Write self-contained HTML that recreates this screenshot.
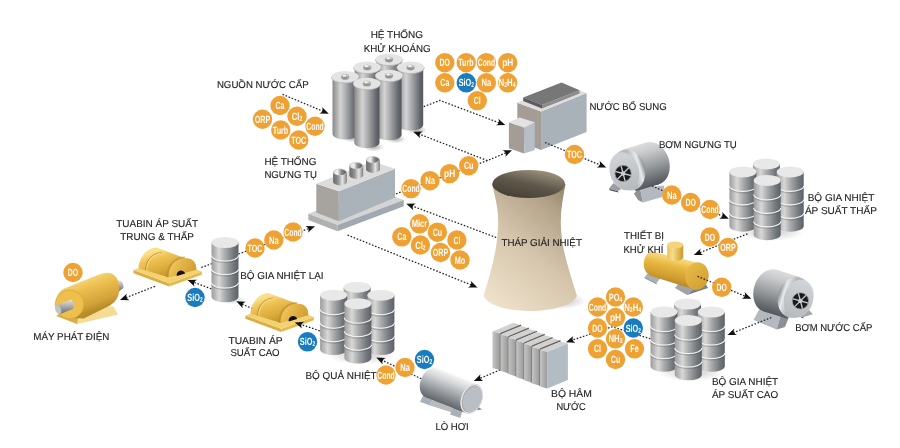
<!DOCTYPE html>
<html><head><meta charset="utf-8"><style>
html,body{margin:0;padding:0;background:#fff;width:900px;height:448px;overflow:hidden}
svg{display:block;will-change:transform}
.l{text-rendering:geometricPrecision;font-family:"Liberation Sans",sans-serif;fill:#222;stroke:#222;stroke-width:0.12px}
.b{text-rendering:geometricPrecision;font-family:"Liberation Sans",sans-serif;font-weight:bold;font-size:10.5px;fill:#fff}
</style></head><body>
<svg width="900" height="448" viewBox="0 0 900 448">
<defs>
<linearGradient id="gDrum" x1="0" y1="0" x2="1" y2="0">
 <stop offset="0" stop-color="#9c9c9c"/><stop offset="0.28" stop-color="#d8d8d8"/>
 <stop offset="0.52" stop-color="#a7a8a9"/><stop offset="0.82" stop-color="#72777c"/><stop offset="1" stop-color="#5c6166"/>
</linearGradient>
<linearGradient id="gCyl" x1="0" y1="0" x2="1" y2="0">
 <stop offset="0" stop-color="#888888"/><stop offset="0.32" stop-color="#d4d4d4"/>
 <stop offset="0.58" stop-color="#a0a2a4"/><stop offset="0.88" stop-color="#62666c"/><stop offset="1" stop-color="#54585e"/>
</linearGradient>
<linearGradient id="gTop" x1="0" y1="0" x2="1" y2="1">
 <stop offset="0" stop-color="#f0f0f0"/><stop offset="1" stop-color="#d8d8d8"/>
</linearGradient>
<linearGradient id="gPipe" x1="0" y1="0" x2="1" y2="0">
 <stop offset="0" stop-color="#6a6a6a"/><stop offset="0.35" stop-color="#8e8e8e"/>
 <stop offset="0.68" stop-color="#e4e4e4"/><stop offset="1" stop-color="#7e7e7e"/>
</linearGradient>
<linearGradient id="gPipeIn" x1="0" y1="0" x2="1" y2="0">
 <stop offset="0" stop-color="#dadada"/><stop offset="0.3" stop-color="#f2f2f2"/><stop offset="0.6" stop-color="#8a8a8a"/><stop offset="1" stop-color="#5e5e5e"/>
</linearGradient>
<linearGradient id="gTower" gradientUnits="userSpaceOnUse" x1="485" y1="300" x2="575" y2="190">
 <stop offset="0" stop-color="#efe1cb"/><stop offset="0.45" stop-color="#d6c6ad"/><stop offset="0.8" stop-color="#b3a389"/><stop offset="1" stop-color="#8e7f66"/>
</linearGradient>
<linearGradient id="gTowerTop" x1="0.2" y1="1" x2="0.8" y2="0">
 <stop offset="0" stop-color="#443d32"/><stop offset="0.5" stop-color="#5e574a"/><stop offset="1" stop-color="#a39984"/>
</linearGradient>
<linearGradient id="gKnob" x1="0" y1="0" x2="0" y2="1"><stop offset="0" stop-color="#e6e6e6"/><stop offset="1" stop-color="#7a7a7a"/></linearGradient>
<radialGradient id="gShadow" cx="0.5" cy="0.5" r="0.5">
 <stop offset="0" stop-color="#000" stop-opacity="0.35"/><stop offset="1" stop-color="#000" stop-opacity="0"/>
</radialGradient>
<linearGradient id="lg1" gradientUnits="userSpaceOnUse" x1="492.50" y1="0.00" x2="499.80" y2="0.00"><stop offset="0" stop-color="#c4c4c4"/><stop offset="1" stop-color="#9c9c9c"/></linearGradient><linearGradient id="lg2" gradientUnits="userSpaceOnUse" x1="500.40" y1="0.00" x2="507.70" y2="0.00"><stop offset="0" stop-color="#c4c4c4"/><stop offset="1" stop-color="#9c9c9c"/></linearGradient><linearGradient id="lg3" gradientUnits="userSpaceOnUse" x1="508.30" y1="0.00" x2="515.60" y2="0.00"><stop offset="0" stop-color="#c4c4c4"/><stop offset="1" stop-color="#9c9c9c"/></linearGradient><linearGradient id="lg4" gradientUnits="userSpaceOnUse" x1="516.20" y1="0.00" x2="523.50" y2="0.00"><stop offset="0" stop-color="#c4c4c4"/><stop offset="1" stop-color="#9c9c9c"/></linearGradient><linearGradient id="lg5" gradientUnits="userSpaceOnUse" x1="524.10" y1="0.00" x2="531.40" y2="0.00"><stop offset="0" stop-color="#c4c4c4"/><stop offset="1" stop-color="#9c9c9c"/></linearGradient><linearGradient id="lg6" gradientUnits="userSpaceOnUse" x1="532.00" y1="0.00" x2="539.30" y2="0.00"><stop offset="0" stop-color="#c4c4c4"/><stop offset="1" stop-color="#9c9c9c"/></linearGradient><linearGradient id="lg7" gradientUnits="userSpaceOnUse" x1="539.90" y1="0.00" x2="547.20" y2="0.00"><stop offset="0" stop-color="#c4c4c4"/><stop offset="1" stop-color="#9c9c9c"/></linearGradient><linearGradient id="lg8" gradientUnits="userSpaceOnUse" x1="623.00" y1="149.55" x2="635.60" y2="191.29"><stop offset="0" stop-color="#dcdcdc"/><stop offset="0.2" stop-color="#c8cacc"/><stop offset="0.55" stop-color="#989b9e"/><stop offset="0.85" stop-color="#686c71"/><stop offset="1" stop-color="#54585c"/></linearGradient><linearGradient id="lg9" gradientUnits="userSpaceOnUse" x1="613.33" y1="174.61" x2="643.97" y2="165.36"><stop offset="0" stop-color="#c8ccd0"/><stop offset="0.6" stop-color="#b4b8bc"/><stop offset="0.85" stop-color="#e8eaec"/><stop offset="1" stop-color="#8c9094"/></linearGradient><linearGradient id="lg10" gradientUnits="userSpaceOnUse" x1="619.37" y1="151.37" x2="631.23" y2="190.63"><stop offset="0" stop-color="#d2d5d8"/><stop offset="1" stop-color="#b6babe"/></linearGradient><linearGradient id="lg11" gradientUnits="userSpaceOnUse" x1="800.00" y1="276.95" x2="787.40" y2="318.69"><stop offset="0" stop-color="#dcdcdc"/><stop offset="0.2" stop-color="#c8cacc"/><stop offset="0.55" stop-color="#989b9e"/><stop offset="0.85" stop-color="#686c71"/><stop offset="1" stop-color="#54585c"/></linearGradient><linearGradient id="lg12" gradientUnits="userSpaceOnUse" x1="809.67" y1="302.01" x2="779.03" y2="292.76"><stop offset="0" stop-color="#c8ccd0"/><stop offset="0.6" stop-color="#b4b8bc"/><stop offset="0.85" stop-color="#e8eaec"/><stop offset="1" stop-color="#8c9094"/></linearGradient><linearGradient id="lg13" gradientUnits="userSpaceOnUse" x1="803.63" y1="278.77" x2="791.77" y2="318.03"><stop offset="0" stop-color="#d2d5d8"/><stop offset="1" stop-color="#b6babe"/></linearGradient><linearGradient id="lg14" gradientUnits="userSpaceOnUse" x1="477.39" y1="384.59" x2="466.01" y2="413.21"><stop offset="0" stop-color="#f4f4f4"/><stop offset="0.25" stop-color="#d4d6d8"/><stop offset="0.7" stop-color="#8e9296"/><stop offset="1" stop-color="#62666a"/></linearGradient><linearGradient id="lg15" gradientUnits="userSpaceOnUse" x1="668.00" y1="257.00" x2="662.00" y2="283.00"><stop offset="0" stop-color="#f6d678"/><stop offset="0.3" stop-color="#e8b840"/><stop offset="0.75" stop-color="#cc9a2e"/><stop offset="1" stop-color="#b08220"/></linearGradient><linearGradient id="lg16" gradientUnits="userSpaceOnUse" x1="686.00" y1="265.00" x2="708.00" y2="288.00"><stop offset="0" stop-color="#eabc48"/><stop offset="1" stop-color="#cf9d30"/></linearGradient><linearGradient id="gDome" x1="0" y1="0" x2="1" y2="0"><stop offset="0" stop-color="#e8c05a"/><stop offset="0.35" stop-color="#f7dc8a"/><stop offset="1" stop-color="#c8982e"/></linearGradient><linearGradient id="lg17" gradientUnits="userSpaceOnUse" x1="78.00" y1="278.00" x2="90.00" y2="312.00"><stop offset="0" stop-color="#f8da82"/><stop offset="0.35" stop-color="#ecbf50"/><stop offset="0.8" stop-color="#d3a33a"/><stop offset="1" stop-color="#b98c28"/></linearGradient><linearGradient id="gShaft" x1="0" y1="0" x2="0" y2="1"><stop offset="0" stop-color="#e6e6e6"/><stop offset="0.5" stop-color="#a8a8a8"/><stop offset="1" stop-color="#6a6a6a"/></linearGradient><linearGradient id="lg18" gradientUnits="userSpaceOnUse" x1="158.00" y1="250.00" x2="167.00" y2="277.00"><stop offset="0" stop-color="#fbe08c"/><stop offset="0.25" stop-color="#f0c458"/><stop offset="0.7" stop-color="#d9a93a"/><stop offset="1" stop-color="#c39329"/></linearGradient><linearGradient id="lg19" gradientUnits="userSpaceOnUse" x1="170.00" y1="262.00" x2="194.00" y2="276.00"><stop offset="0" stop-color="#f2ca5e"/><stop offset="0.5" stop-color="#e0b044"/><stop offset="1" stop-color="#cc9c34"/></linearGradient><linearGradient id="lg20" gradientUnits="userSpaceOnUse" x1="270.00" y1="295.50" x2="279.00" y2="322.50"><stop offset="0" stop-color="#fbe08c"/><stop offset="0.25" stop-color="#f0c458"/><stop offset="0.7" stop-color="#d9a93a"/><stop offset="1" stop-color="#c39329"/></linearGradient><linearGradient id="lg21" gradientUnits="userSpaceOnUse" x1="282.00" y1="307.50" x2="306.00" y2="321.50"><stop offset="0" stop-color="#f2ca5e"/><stop offset="0.5" stop-color="#e0b044"/><stop offset="1" stop-color="#cc9c34"/></linearGradient></defs>
<rect width="900" height="448" fill="#fff"/>
<polyline points="282.50,94.30 323.93,111.66" fill="none" stroke="#222" stroke-width="1.25" stroke-dasharray="1.6 1.7"/>
<polyline points="423.70,106.70 439.80,100.40 500.36,123.24" fill="none" stroke="#222" stroke-width="1.25" stroke-dasharray="1.6 1.7"/>
<polyline points="487.30,160.60 418.22,133.62" fill="none" stroke="#222" stroke-width="1.25" stroke-dasharray="1.6 1.7"/>
<polyline points="396.00,193.80 487.30,160.60 507.13,152.33" fill="none" stroke="#222" stroke-width="1.25" stroke-dasharray="1.6 1.7"/>
<polyline points="496.20,237.50 411.24,205.65" fill="none" stroke="#222" stroke-width="1.25" stroke-dasharray="1.6 1.7"/>
<polyline points="347.50,235.00 472.60,285.52" fill="none" stroke="#222" stroke-width="1.25" stroke-dasharray="1.6 1.7"/>
<polyline points="747.50,233.80 698.71,253.06" fill="none" stroke="#222" stroke-width="1.25" stroke-dasharray="1.6 1.7"/>
<polyline points="650.40,338.80 612.00,326.80 571.01,340.52" fill="none" stroke="#222" stroke-width="1.25" stroke-dasharray="1.6 1.7"/>
<polyline points="506.30,367.30 478.67,378.95" fill="none" stroke="#222" stroke-width="1.25" stroke-dasharray="1.6 1.7"/>
<polyline points="421.30,378.80 381.07,359.76" fill="none" stroke="#222" stroke-width="1.25" stroke-dasharray="1.6 1.7"/>
<polyline points="252.50,308.80 241.09,303.52" fill="none" stroke="#222" stroke-width="1.25" stroke-dasharray="1.6 1.7"/>
<polyline points="201.30,267.50 310.04,228.10" fill="none" stroke="#222" stroke-width="1.25" stroke-dasharray="1.6 1.7"/>
<polyline points="155.00,286.30 124.92,298.08" fill="none" stroke="#222" stroke-width="1.25" stroke-dasharray="1.6 1.7"/>
<ellipse cx="560" cy="301" rx="26" ry="8" fill="url(#gShadow)" opacity="0.8"/>
<path d="M492,184 C496,200 499,212 498,228 C497,252 490,275 483.5,296 C490,308 515,311 531,311 C550,311 572,306 577,296 C571,276 562,252 561,228 C560,212 563,198 565.5,184 Z" fill="url(#gTower)"/>
<ellipse cx="528.7" cy="184" rx="36.5" ry="14" fill="url(#gTowerTop)"/>
<ellipse cx="417.0" cy="130.0" rx="10" ry="4.5" fill="url(#gShadow)" opacity="0.9"/>
<ellipse cx="396.0" cy="139.0" rx="10" ry="4.5" fill="url(#gShadow)" opacity="0.9"/>
<ellipse cx="374.0" cy="147.0" rx="10" ry="4.5" fill="url(#gShadow)" opacity="0.9"/>
<ellipse cx="353.0" cy="138.0" rx="10" ry="4.5" fill="url(#gShadow)" opacity="0.9"/>
<path d="M376.40,59.60 L376.40,117.60 A12.60,5.50 0 0 0 401.60,117.60 L401.60,59.60 Z" fill="url(#gCyl)"/>
<ellipse cx="389.00" cy="59.60" rx="13.8" ry="6" fill="#e4e4e4"/>
<path d="M375.20,59.60 A13.8,6 0 0 0 402.80,59.60" fill="none" stroke="#b5b5b5" stroke-width="0.8"/>
<ellipse cx="389.00" cy="59.60" rx="4.2" ry="2.9" fill="#a8a8a8"/>
<ellipse cx="389.00" cy="59.20" rx="3.4" ry="2.2" fill="url(#gKnob)"/>
<ellipse cx="388.20" cy="58.20" rx="1.6" ry="0.9" fill="#fafafa"/>
<path d="M354.60,67.60 L354.60,125.60 A12.60,5.50 0 0 0 379.80,125.60 L379.80,67.60 Z" fill="url(#gCyl)"/>
<ellipse cx="367.20" cy="67.60" rx="13.8" ry="6" fill="#e4e4e4"/>
<path d="M353.40,67.60 A13.8,6 0 0 0 381.00,67.60" fill="none" stroke="#b5b5b5" stroke-width="0.8"/>
<ellipse cx="367.20" cy="67.60" rx="4.2" ry="2.9" fill="#a8a8a8"/>
<ellipse cx="367.20" cy="67.20" rx="3.4" ry="2.2" fill="url(#gKnob)"/>
<ellipse cx="366.40" cy="66.20" rx="1.6" ry="0.9" fill="#fafafa"/>
<path d="M398.00,67.60 L398.00,125.10 A12.60,5.50 0 0 0 423.20,125.10 L423.20,67.60 Z" fill="url(#gCyl)"/>
<ellipse cx="410.60" cy="67.60" rx="13.8" ry="6" fill="#e4e4e4"/>
<path d="M396.80,67.60 A13.8,6 0 0 0 424.40,67.60" fill="none" stroke="#b5b5b5" stroke-width="0.8"/>
<ellipse cx="410.60" cy="67.60" rx="4.2" ry="2.9" fill="#a8a8a8"/>
<ellipse cx="410.60" cy="67.20" rx="3.4" ry="2.2" fill="url(#gKnob)"/>
<ellipse cx="409.80" cy="66.20" rx="1.6" ry="0.9" fill="#fafafa"/>
<path d="M376.40,75.80 L376.40,134.80 A12.60,5.50 0 0 0 401.60,134.80 L401.60,75.80 Z" fill="url(#gCyl)"/>
<ellipse cx="389.00" cy="75.80" rx="13.8" ry="6" fill="#e4e4e4"/>
<path d="M375.20,75.80 A13.8,6 0 0 0 402.80,75.80" fill="none" stroke="#b5b5b5" stroke-width="0.8"/>
<ellipse cx="389.00" cy="75.80" rx="4.2" ry="2.9" fill="#a8a8a8"/>
<ellipse cx="389.00" cy="75.40" rx="3.4" ry="2.2" fill="url(#gKnob)"/>
<ellipse cx="388.20" cy="74.40" rx="1.6" ry="0.9" fill="#fafafa"/>
<path d="M332.50,77.00 L332.50,134.00 A12.60,5.50 0 0 0 357.70,134.00 L357.70,77.00 Z" fill="url(#gCyl)"/>
<ellipse cx="345.10" cy="77.00" rx="13.8" ry="6" fill="#e4e4e4"/>
<path d="M331.30,77.00 A13.8,6 0 0 0 358.90,77.00" fill="none" stroke="#b5b5b5" stroke-width="0.8"/>
<ellipse cx="345.10" cy="77.00" rx="4.2" ry="2.9" fill="#a8a8a8"/>
<ellipse cx="345.10" cy="76.60" rx="3.4" ry="2.2" fill="url(#gKnob)"/>
<ellipse cx="344.30" cy="75.60" rx="1.6" ry="0.9" fill="#fafafa"/>
<path d="M354.30,83.70 L354.30,142.70 A12.60,5.50 0 0 0 379.50,142.70 L379.50,83.70 Z" fill="url(#gCyl)"/>
<ellipse cx="366.90" cy="83.70" rx="13.8" ry="6" fill="#e4e4e4"/>
<path d="M353.10,83.70 A13.8,6 0 0 0 380.70,83.70" fill="none" stroke="#b5b5b5" stroke-width="0.8"/>
<ellipse cx="366.90" cy="83.70" rx="4.2" ry="2.9" fill="#a8a8a8"/>
<ellipse cx="366.90" cy="83.30" rx="3.4" ry="2.2" fill="url(#gKnob)"/>
<ellipse cx="366.10" cy="82.30" rx="1.6" ry="0.9" fill="#fafafa"/>
<polygon points="517.30,102.70 541.00,111.60 541.00,150.00 517.30,141.00" fill="#a39d96" />
<polygon points="541.00,111.60 586.60,92.90 586.60,132.10 541.00,150.00" fill="#a9b1b9" />
<polygon points="517.30,102.70 562.50,83.50 586.60,92.90 541.00,111.60" fill="#dedede" />
<polygon points="523.20,97.50 561.60,82.50 579.50,90.20 542.00,105.00" fill="#777777" />
<polygon points="523.20,97.50 542.00,105.00 542.00,108.50 523.20,101.00" fill="#5c5c5c" />
<polygon points="542.00,105.00 579.50,90.20 579.50,93.50 542.00,108.50" fill="#8c8c8c" />
<polygon points="508.90,122.30 524.10,127.70 524.10,153.60 508.90,148.20" fill="#a39d96" />
<polygon points="524.10,127.70 534.80,122.30 534.80,150.00 524.10,153.60" fill="#b6bec6" />
<polygon points="508.90,122.30 519.60,117.60 534.80,122.30 524.10,127.70" fill="#e2e2e2" />
<polygon points="308.30,213.80 337.50,225.00 403.80,200.00 375.00,189.50" fill="#d4d4d4" />
<polygon points="308.30,213.80 337.50,225.00 337.50,231.30 308.30,220.00" fill="#b0b0b0" />
<polygon points="337.50,225.00 403.80,200.00 403.80,206.30 337.50,231.30" fill="#a0a8b0" />
<polygon points="316.30,183.80 338.80,191.30 338.80,221.30 316.30,212.50" fill="#a7a39f" />
<polygon points="338.80,191.30 395.00,168.80 395.00,197.50 338.80,221.30" fill="#aab2ba" />
<polygon points="316.30,183.80 372.00,161.50 395.00,168.80 338.80,191.30" fill="#dcdcdc" />
<path d="M333.10,172.00 L333.10,181.80 A6.9,3.6 0 0 0 346.90,181.80 L346.90,172.00 Z" fill="url(#gPipe)"/>
<ellipse cx="340.00" cy="172.00" rx="6.9" ry="3.6" fill="#cfcfcf"/>
<ellipse cx="340.00" cy="172.20" rx="6.1" ry="2.9" fill="url(#gPipeIn)"/>
<path d="M349.40,165.50 L349.40,175.30 A6.9,3.6 0 0 0 363.20,175.30 L363.20,165.50 Z" fill="url(#gPipe)"/>
<ellipse cx="356.30" cy="165.50" rx="6.9" ry="3.6" fill="#cfcfcf"/>
<ellipse cx="356.30" cy="165.70" rx="6.1" ry="2.9" fill="url(#gPipeIn)"/>
<path d="M366.10,159.50 L366.10,169.30 A6.9,3.6 0 0 0 379.90,169.30 L379.90,159.50 Z" fill="url(#gPipe)"/>
<ellipse cx="373.00" cy="159.50" rx="6.9" ry="3.6" fill="#cfcfcf"/>
<ellipse cx="373.00" cy="159.70" rx="6.1" ry="2.9" fill="url(#gPipeIn)"/>
<ellipse cx="770.40" cy="232.20" rx="34" ry="9" fill="url(#gShadow)" opacity="0.6"/>
<path d="M752.90,163.90 L752.90,218.20 A13.50,5.50 0 0 0 779.90,218.20 L779.90,163.90 Z" fill="url(#gDrum)"/>
<path d="M752.90,179.30 A13.50,5.50 0 0 0 779.90,179.30" fill="none" stroke="#404040" stroke-opacity="0.22" stroke-width="1.4"/>
<path d="M752.90,177.90 A13.50,5.50 0 0 0 779.90,177.90" fill="none" stroke="#f4f4f4" stroke-width="1.1"/>
<path d="M752.90,192.80 A13.50,5.50 0 0 0 779.90,192.80" fill="none" stroke="#404040" stroke-opacity="0.22" stroke-width="1.4"/>
<path d="M752.90,191.40 A13.50,5.50 0 0 0 779.90,191.40" fill="none" stroke="#f4f4f4" stroke-width="1.1"/>
<path d="M752.90,206.30 A13.50,5.50 0 0 0 779.90,206.30" fill="none" stroke="#404040" stroke-opacity="0.22" stroke-width="1.4"/>
<path d="M752.90,204.90 A13.50,5.50 0 0 0 779.90,204.90" fill="none" stroke="#f4f4f4" stroke-width="1.1"/>
<ellipse cx="766.40" cy="163.90" rx="13.50" ry="5.50" fill="#e8e8e8"/>
<path d="M729.40,171.90 L729.40,226.20 A13.50,5.50 0 0 0 756.40,226.20 L756.40,171.90 Z" fill="url(#gDrum)"/>
<path d="M729.40,187.30 A13.50,5.50 0 0 0 756.40,187.30" fill="none" stroke="#404040" stroke-opacity="0.22" stroke-width="1.4"/>
<path d="M729.40,185.90 A13.50,5.50 0 0 0 756.40,185.90" fill="none" stroke="#f4f4f4" stroke-width="1.1"/>
<path d="M729.40,200.80 A13.50,5.50 0 0 0 756.40,200.80" fill="none" stroke="#404040" stroke-opacity="0.22" stroke-width="1.4"/>
<path d="M729.40,199.40 A13.50,5.50 0 0 0 756.40,199.40" fill="none" stroke="#f4f4f4" stroke-width="1.1"/>
<path d="M729.40,214.30 A13.50,5.50 0 0 0 756.40,214.30" fill="none" stroke="#404040" stroke-opacity="0.22" stroke-width="1.4"/>
<path d="M729.40,212.90 A13.50,5.50 0 0 0 756.40,212.90" fill="none" stroke="#f4f4f4" stroke-width="1.1"/>
<ellipse cx="742.90" cy="171.90" rx="13.50" ry="5.50" fill="#e8e8e8"/>
<path d="M776.70,171.90 L776.70,226.20 A13.50,5.50 0 0 0 803.70,226.20 L803.70,171.90 Z" fill="url(#gDrum)"/>
<path d="M776.70,187.30 A13.50,5.50 0 0 0 803.70,187.30" fill="none" stroke="#404040" stroke-opacity="0.22" stroke-width="1.4"/>
<path d="M776.70,185.90 A13.50,5.50 0 0 0 803.70,185.90" fill="none" stroke="#f4f4f4" stroke-width="1.1"/>
<path d="M776.70,200.80 A13.50,5.50 0 0 0 803.70,200.80" fill="none" stroke="#404040" stroke-opacity="0.22" stroke-width="1.4"/>
<path d="M776.70,199.40 A13.50,5.50 0 0 0 803.70,199.40" fill="none" stroke="#f4f4f4" stroke-width="1.1"/>
<path d="M776.70,214.30 A13.50,5.50 0 0 0 803.70,214.30" fill="none" stroke="#404040" stroke-opacity="0.22" stroke-width="1.4"/>
<path d="M776.70,212.90 A13.50,5.50 0 0 0 803.70,212.90" fill="none" stroke="#f4f4f4" stroke-width="1.1"/>
<ellipse cx="790.20" cy="171.90" rx="13.50" ry="5.50" fill="#e8e8e8"/>
<path d="M753.70,180.40 L753.70,234.70 A13.50,5.50 0 0 0 780.70,234.70 L780.70,180.40 Z" fill="url(#gDrum)"/>
<path d="M753.70,195.80 A13.50,5.50 0 0 0 780.70,195.80" fill="none" stroke="#404040" stroke-opacity="0.22" stroke-width="1.4"/>
<path d="M753.70,194.40 A13.50,5.50 0 0 0 780.70,194.40" fill="none" stroke="#f4f4f4" stroke-width="1.1"/>
<path d="M753.70,209.30 A13.50,5.50 0 0 0 780.70,209.30" fill="none" stroke="#404040" stroke-opacity="0.22" stroke-width="1.4"/>
<path d="M753.70,207.90 A13.50,5.50 0 0 0 780.70,207.90" fill="none" stroke="#f4f4f4" stroke-width="1.1"/>
<path d="M753.70,222.80 A13.50,5.50 0 0 0 780.70,222.80" fill="none" stroke="#404040" stroke-opacity="0.22" stroke-width="1.4"/>
<path d="M753.70,221.40 A13.50,5.50 0 0 0 780.70,221.40" fill="none" stroke="#f4f4f4" stroke-width="1.1"/>
<ellipse cx="767.20" cy="180.40" rx="13.50" ry="5.50" fill="#e8e8e8"/>
<ellipse cx="691.50" cy="372.30" rx="34" ry="9" fill="url(#gShadow)" opacity="0.6"/>
<path d="M674.00,304.00 L674.00,358.30 A13.50,5.50 0 0 0 701.00,358.30 L701.00,304.00 Z" fill="url(#gDrum)"/>
<path d="M674.00,319.40 A13.50,5.50 0 0 0 701.00,319.40" fill="none" stroke="#404040" stroke-opacity="0.22" stroke-width="1.4"/>
<path d="M674.00,318.00 A13.50,5.50 0 0 0 701.00,318.00" fill="none" stroke="#f4f4f4" stroke-width="1.1"/>
<path d="M674.00,332.90 A13.50,5.50 0 0 0 701.00,332.90" fill="none" stroke="#404040" stroke-opacity="0.22" stroke-width="1.4"/>
<path d="M674.00,331.50 A13.50,5.50 0 0 0 701.00,331.50" fill="none" stroke="#f4f4f4" stroke-width="1.1"/>
<path d="M674.00,346.40 A13.50,5.50 0 0 0 701.00,346.40" fill="none" stroke="#404040" stroke-opacity="0.22" stroke-width="1.4"/>
<path d="M674.00,345.00 A13.50,5.50 0 0 0 701.00,345.00" fill="none" stroke="#f4f4f4" stroke-width="1.1"/>
<ellipse cx="687.50" cy="304.00" rx="13.50" ry="5.50" fill="#e8e8e8"/>
<path d="M650.50,312.00 L650.50,366.30 A13.50,5.50 0 0 0 677.50,366.30 L677.50,312.00 Z" fill="url(#gDrum)"/>
<path d="M650.50,327.40 A13.50,5.50 0 0 0 677.50,327.40" fill="none" stroke="#404040" stroke-opacity="0.22" stroke-width="1.4"/>
<path d="M650.50,326.00 A13.50,5.50 0 0 0 677.50,326.00" fill="none" stroke="#f4f4f4" stroke-width="1.1"/>
<path d="M650.50,340.90 A13.50,5.50 0 0 0 677.50,340.90" fill="none" stroke="#404040" stroke-opacity="0.22" stroke-width="1.4"/>
<path d="M650.50,339.50 A13.50,5.50 0 0 0 677.50,339.50" fill="none" stroke="#f4f4f4" stroke-width="1.1"/>
<path d="M650.50,354.40 A13.50,5.50 0 0 0 677.50,354.40" fill="none" stroke="#404040" stroke-opacity="0.22" stroke-width="1.4"/>
<path d="M650.50,353.00 A13.50,5.50 0 0 0 677.50,353.00" fill="none" stroke="#f4f4f4" stroke-width="1.1"/>
<ellipse cx="664.00" cy="312.00" rx="13.50" ry="5.50" fill="#e8e8e8"/>
<path d="M697.80,312.00 L697.80,366.30 A13.50,5.50 0 0 0 724.80,366.30 L724.80,312.00 Z" fill="url(#gDrum)"/>
<path d="M697.80,327.40 A13.50,5.50 0 0 0 724.80,327.40" fill="none" stroke="#404040" stroke-opacity="0.22" stroke-width="1.4"/>
<path d="M697.80,326.00 A13.50,5.50 0 0 0 724.80,326.00" fill="none" stroke="#f4f4f4" stroke-width="1.1"/>
<path d="M697.80,340.90 A13.50,5.50 0 0 0 724.80,340.90" fill="none" stroke="#404040" stroke-opacity="0.22" stroke-width="1.4"/>
<path d="M697.80,339.50 A13.50,5.50 0 0 0 724.80,339.50" fill="none" stroke="#f4f4f4" stroke-width="1.1"/>
<path d="M697.80,354.40 A13.50,5.50 0 0 0 724.80,354.40" fill="none" stroke="#404040" stroke-opacity="0.22" stroke-width="1.4"/>
<path d="M697.80,353.00 A13.50,5.50 0 0 0 724.80,353.00" fill="none" stroke="#f4f4f4" stroke-width="1.1"/>
<ellipse cx="711.30" cy="312.00" rx="13.50" ry="5.50" fill="#e8e8e8"/>
<path d="M674.80,320.50 L674.80,374.80 A13.50,5.50 0 0 0 701.80,374.80 L701.80,320.50 Z" fill="url(#gDrum)"/>
<path d="M674.80,335.90 A13.50,5.50 0 0 0 701.80,335.90" fill="none" stroke="#404040" stroke-opacity="0.22" stroke-width="1.4"/>
<path d="M674.80,334.50 A13.50,5.50 0 0 0 701.80,334.50" fill="none" stroke="#f4f4f4" stroke-width="1.1"/>
<path d="M674.80,349.40 A13.50,5.50 0 0 0 701.80,349.40" fill="none" stroke="#404040" stroke-opacity="0.22" stroke-width="1.4"/>
<path d="M674.80,348.00 A13.50,5.50 0 0 0 701.80,348.00" fill="none" stroke="#f4f4f4" stroke-width="1.1"/>
<path d="M674.80,362.90 A13.50,5.50 0 0 0 701.80,362.90" fill="none" stroke="#404040" stroke-opacity="0.22" stroke-width="1.4"/>
<path d="M674.80,361.50 A13.50,5.50 0 0 0 701.80,361.50" fill="none" stroke="#f4f4f4" stroke-width="1.1"/>
<ellipse cx="688.30" cy="320.50" rx="13.50" ry="5.50" fill="#e8e8e8"/>
<ellipse cx="361.10" cy="355.50" rx="34" ry="9" fill="url(#gShadow)" opacity="0.6"/>
<path d="M343.60,287.20 L343.60,341.50 A13.50,5.50 0 0 0 370.60,341.50 L370.60,287.20 Z" fill="url(#gDrum)"/>
<path d="M343.60,302.60 A13.50,5.50 0 0 0 370.60,302.60" fill="none" stroke="#404040" stroke-opacity="0.22" stroke-width="1.4"/>
<path d="M343.60,301.20 A13.50,5.50 0 0 0 370.60,301.20" fill="none" stroke="#f4f4f4" stroke-width="1.1"/>
<path d="M343.60,316.10 A13.50,5.50 0 0 0 370.60,316.10" fill="none" stroke="#404040" stroke-opacity="0.22" stroke-width="1.4"/>
<path d="M343.60,314.70 A13.50,5.50 0 0 0 370.60,314.70" fill="none" stroke="#f4f4f4" stroke-width="1.1"/>
<path d="M343.60,329.60 A13.50,5.50 0 0 0 370.60,329.60" fill="none" stroke="#404040" stroke-opacity="0.22" stroke-width="1.4"/>
<path d="M343.60,328.20 A13.50,5.50 0 0 0 370.60,328.20" fill="none" stroke="#f4f4f4" stroke-width="1.1"/>
<ellipse cx="357.10" cy="287.20" rx="13.50" ry="5.50" fill="#e8e8e8"/>
<path d="M320.10,295.20 L320.10,349.50 A13.50,5.50 0 0 0 347.10,349.50 L347.10,295.20 Z" fill="url(#gDrum)"/>
<path d="M320.10,310.60 A13.50,5.50 0 0 0 347.10,310.60" fill="none" stroke="#404040" stroke-opacity="0.22" stroke-width="1.4"/>
<path d="M320.10,309.20 A13.50,5.50 0 0 0 347.10,309.20" fill="none" stroke="#f4f4f4" stroke-width="1.1"/>
<path d="M320.10,324.10 A13.50,5.50 0 0 0 347.10,324.10" fill="none" stroke="#404040" stroke-opacity="0.22" stroke-width="1.4"/>
<path d="M320.10,322.70 A13.50,5.50 0 0 0 347.10,322.70" fill="none" stroke="#f4f4f4" stroke-width="1.1"/>
<path d="M320.10,337.60 A13.50,5.50 0 0 0 347.10,337.60" fill="none" stroke="#404040" stroke-opacity="0.22" stroke-width="1.4"/>
<path d="M320.10,336.20 A13.50,5.50 0 0 0 347.10,336.20" fill="none" stroke="#f4f4f4" stroke-width="1.1"/>
<ellipse cx="333.60" cy="295.20" rx="13.50" ry="5.50" fill="#e8e8e8"/>
<path d="M367.40,295.20 L367.40,349.50 A13.50,5.50 0 0 0 394.40,349.50 L394.40,295.20 Z" fill="url(#gDrum)"/>
<path d="M367.40,310.60 A13.50,5.50 0 0 0 394.40,310.60" fill="none" stroke="#404040" stroke-opacity="0.22" stroke-width="1.4"/>
<path d="M367.40,309.20 A13.50,5.50 0 0 0 394.40,309.20" fill="none" stroke="#f4f4f4" stroke-width="1.1"/>
<path d="M367.40,324.10 A13.50,5.50 0 0 0 394.40,324.10" fill="none" stroke="#404040" stroke-opacity="0.22" stroke-width="1.4"/>
<path d="M367.40,322.70 A13.50,5.50 0 0 0 394.40,322.70" fill="none" stroke="#f4f4f4" stroke-width="1.1"/>
<path d="M367.40,337.60 A13.50,5.50 0 0 0 394.40,337.60" fill="none" stroke="#404040" stroke-opacity="0.22" stroke-width="1.4"/>
<path d="M367.40,336.20 A13.50,5.50 0 0 0 394.40,336.20" fill="none" stroke="#f4f4f4" stroke-width="1.1"/>
<ellipse cx="380.90" cy="295.20" rx="13.50" ry="5.50" fill="#e8e8e8"/>
<path d="M344.40,303.70 L344.40,358.00 A13.50,5.50 0 0 0 371.40,358.00 L371.40,303.70 Z" fill="url(#gDrum)"/>
<path d="M344.40,319.10 A13.50,5.50 0 0 0 371.40,319.10" fill="none" stroke="#404040" stroke-opacity="0.22" stroke-width="1.4"/>
<path d="M344.40,317.70 A13.50,5.50 0 0 0 371.40,317.70" fill="none" stroke="#f4f4f4" stroke-width="1.1"/>
<path d="M344.40,332.60 A13.50,5.50 0 0 0 371.40,332.60" fill="none" stroke="#404040" stroke-opacity="0.22" stroke-width="1.4"/>
<path d="M344.40,331.20 A13.50,5.50 0 0 0 371.40,331.20" fill="none" stroke="#f4f4f4" stroke-width="1.1"/>
<path d="M344.40,346.10 A13.50,5.50 0 0 0 371.40,346.10" fill="none" stroke="#404040" stroke-opacity="0.22" stroke-width="1.4"/>
<path d="M344.40,344.70 A13.50,5.50 0 0 0 371.40,344.70" fill="none" stroke="#f4f4f4" stroke-width="1.1"/>
<ellipse cx="357.90" cy="303.70" rx="13.50" ry="5.50" fill="#e8e8e8"/>
<ellipse cx="233" cy="300" rx="13" ry="4.5" fill="url(#gShadow)" opacity="0.5"/>
<path d="M211.50,242.50 L211.50,296.80 A13.50,5.50 0 0 0 238.50,296.80 L238.50,242.50 Z" fill="url(#gDrum)"/>
<path d="M211.50,256.90 A13.50,5.50 0 0 0 238.50,256.90" fill="none" stroke="#404040" stroke-opacity="0.22" stroke-width="1.4"/>
<path d="M211.50,255.50 A13.50,5.50 0 0 0 238.50,255.50" fill="none" stroke="#f4f4f4" stroke-width="1.1"/>
<path d="M211.50,270.40 A13.50,5.50 0 0 0 238.50,270.40" fill="none" stroke="#404040" stroke-opacity="0.22" stroke-width="1.4"/>
<path d="M211.50,269.00 A13.50,5.50 0 0 0 238.50,269.00" fill="none" stroke="#f4f4f4" stroke-width="1.1"/>
<path d="M211.50,283.90 A13.50,5.50 0 0 0 238.50,283.90" fill="none" stroke="#404040" stroke-opacity="0.22" stroke-width="1.4"/>
<path d="M211.50,282.50 A13.50,5.50 0 0 0 238.50,282.50" fill="none" stroke="#f4f4f4" stroke-width="1.1"/>
<ellipse cx="225.00" cy="242.50" rx="13.50" ry="5.50" fill="#e8e8e8"/>
<polygon points="492.50,331.40 499.80,333.50 520.50,324.90 513.20,322.80" fill="#d2d2d2" />
<polygon points="492.50,331.40 499.80,333.50 499.80,370.00 492.50,367.90" fill="url(#lg1)" />
<line x1="500.40" y1="333.80" x2="500.40" y2="370.30" stroke="#6a645c" stroke-width="1.5"/>
<line x1="500.40" y1="333.80" x2="521.10" y2="325.20" stroke="#6a645c" stroke-width="1.5"/>
<polygon points="500.40,334.50 507.70,336.60 528.40,328.00 521.10,325.90" fill="#d2d2d2" />
<polygon points="500.40,334.50 507.70,336.60 507.70,373.10 500.40,371.00" fill="url(#lg2)" />
<line x1="508.30" y1="336.90" x2="508.30" y2="373.40" stroke="#6a645c" stroke-width="1.5"/>
<line x1="508.30" y1="336.90" x2="529.00" y2="328.30" stroke="#6a645c" stroke-width="1.5"/>
<polygon points="508.30,337.60 515.60,339.70 536.30,331.10 529.00,329.00" fill="#d2d2d2" />
<polygon points="508.30,337.60 515.60,339.70 515.60,376.20 508.30,374.10" fill="url(#lg3)" />
<line x1="516.20" y1="340.00" x2="516.20" y2="376.50" stroke="#6a645c" stroke-width="1.5"/>
<line x1="516.20" y1="340.00" x2="536.90" y2="331.40" stroke="#6a645c" stroke-width="1.5"/>
<polygon points="516.20,340.70 523.50,342.80 544.20,334.20 536.90,332.10" fill="#d2d2d2" />
<polygon points="516.20,340.70 523.50,342.80 523.50,379.30 516.20,377.20" fill="url(#lg4)" />
<line x1="524.10" y1="343.10" x2="524.10" y2="379.60" stroke="#6a645c" stroke-width="1.5"/>
<line x1="524.10" y1="343.10" x2="544.80" y2="334.50" stroke="#6a645c" stroke-width="1.5"/>
<polygon points="524.10,343.80 531.40,345.90 552.10,337.30 544.80,335.20" fill="#d2d2d2" />
<polygon points="524.10,343.80 531.40,345.90 531.40,382.40 524.10,380.30" fill="url(#lg5)" />
<line x1="532.00" y1="346.20" x2="532.00" y2="382.70" stroke="#6a645c" stroke-width="1.5"/>
<line x1="532.00" y1="346.20" x2="552.70" y2="337.60" stroke="#6a645c" stroke-width="1.5"/>
<polygon points="532.00,346.90 539.30,349.00 560.00,340.40 552.70,338.30" fill="#d2d2d2" />
<polygon points="532.00,346.90 539.30,349.00 539.30,385.50 532.00,383.40" fill="url(#lg6)" />
<line x1="539.90" y1="349.30" x2="539.90" y2="385.80" stroke="#6a645c" stroke-width="1.5"/>
<line x1="539.90" y1="349.30" x2="560.60" y2="340.70" stroke="#6a645c" stroke-width="1.5"/>
<polygon points="539.90,350.00 547.20,352.10 567.90,343.50 560.60,341.40" fill="#d2d2d2" />
<polygon points="539.90,350.00 547.20,352.10 547.20,388.60 539.90,386.50" fill="url(#lg7)" />
<polygon points="547.20,352.10 567.90,343.50 567.90,380.00 547.20,388.60" fill="#b3bbc3" />
<polygon points="608.90,188.70 613.40,182.90 621.40,189.10 617.90,190.90" fill="#9a9ea2" />
<polygon points="608.90,188.70 617.90,190.90 618.50,192.50 610.00,190.50" fill="#5a5d60" />
<polygon points="633.90,193.60 640.00,188.00 642.90,202.50 638.00,200.00" fill="#8e9296" />
<polygon points="640.00,188.00 664.30,185.50 662.50,197.00 642.90,202.50" fill="#b3b9bf" />
<path d="M659.06,184.21 A21.80,16.50 73.20 1 0 646.46,142.47 A21.80,16.50 73.20 1 0 659.06,184.21 Z" fill="url(#lg8)" />
<polygon points="659.06,184.21 635.60,191.29 623.00,149.55 646.46,142.47" fill="url(#lg8)" />
<path d="M634.66,189.90 A20.80,16.00 73.20 1 0 622.64,150.08 A20.80,16.00 73.20 1 0 634.66,189.90 Z" fill="url(#lg9)" />
<path d="M629.92,189.77 A19.30,14.50 73.20 1 0 618.76,152.81 A19.30,14.50 73.20 1 0 629.92,189.77 Z" fill="url(#lg10)" />
<circle cx="623.10" cy="173.50" r="8.2" fill="#1a1a1a"/>
<line x1="623.10" y1="173.50" x2="631.21" y2="175.67" stroke="#c9cdd1" stroke-width="1.3"/>
<line x1="623.10" y1="173.50" x2="625.27" y2="181.61" stroke="#c9cdd1" stroke-width="1.3"/>
<line x1="623.10" y1="173.50" x2="617.16" y2="179.44" stroke="#c9cdd1" stroke-width="1.3"/>
<line x1="623.10" y1="173.50" x2="614.99" y2="171.33" stroke="#c9cdd1" stroke-width="1.3"/>
<line x1="623.10" y1="173.50" x2="620.93" y2="165.39" stroke="#c9cdd1" stroke-width="1.3"/>
<line x1="623.10" y1="173.50" x2="629.04" y2="167.56" stroke="#c9cdd1" stroke-width="1.3"/>
<circle cx="623.10" cy="173.50" r="2.2" fill="#c9cdd1"/>
<circle cx="623.10" cy="173.50" r="8.2" fill="none" stroke="#9ea2a6" stroke-width="0.8"/>
<polygon points="753.50,320.00 759.30,309.30 780.70,315.50 776.70,329.40" fill="#b3b9bf" />
<polygon points="776.70,329.40 780.70,315.50 789.00,317.00 785.00,327.00" fill="#8d9196" />
<polygon points="800.40,316.00 808.40,309.30 812.90,314.20 803.00,317.30" fill="#a4a8ac" />
<polygon points="800.40,316.00 803.00,317.30 804.00,318.50 801.00,317.50" fill="#555" />
<path d="M763.94,311.61 A21.80,16.50 106.80 1 0 776.54,269.87 A21.80,16.50 106.80 1 0 763.94,311.61 Z" fill="url(#lg11)" />
<polygon points="763.94,311.61 787.40,318.69 800.00,276.95 776.54,269.87" fill="url(#lg11)" />
<path d="M788.34,317.30 A20.80,16.00 106.80 1 0 800.36,277.48 A20.80,16.00 106.80 1 0 788.34,317.30 Z" fill="url(#lg12)" />
<path d="M793.08,317.17 A19.30,14.50 106.80 1 0 804.24,280.21 A19.30,14.50 106.80 1 0 793.08,317.17 Z" fill="url(#lg13)" />
<circle cx="800.40" cy="300.90" r="8.2" fill="#1a1a1a"/>
<line x1="800.40" y1="300.90" x2="808.51" y2="303.07" stroke="#c9cdd1" stroke-width="1.3"/>
<line x1="800.40" y1="300.90" x2="802.57" y2="309.01" stroke="#c9cdd1" stroke-width="1.3"/>
<line x1="800.40" y1="300.90" x2="794.46" y2="306.84" stroke="#c9cdd1" stroke-width="1.3"/>
<line x1="800.40" y1="300.90" x2="792.29" y2="298.73" stroke="#c9cdd1" stroke-width="1.3"/>
<line x1="800.40" y1="300.90" x2="798.23" y2="292.79" stroke="#c9cdd1" stroke-width="1.3"/>
<line x1="800.40" y1="300.90" x2="806.34" y2="294.96" stroke="#c9cdd1" stroke-width="1.3"/>
<circle cx="800.40" cy="300.90" r="2.2" fill="#c9cdd1"/>
<circle cx="800.40" cy="300.90" r="8.2" fill="none" stroke="#9ea2a6" stroke-width="0.8"/>
<polygon points="432.90,399.20 450.00,407.00 462.00,410.00 460.00,415.00 430.00,405.40" fill="#9a9c9e" opacity="0.7"/>
<polygon points="420.00,401.70 423.30,395.00 432.90,399.20 430.00,405.40" fill="#a9b1b9" />
<polygon points="450.00,414.60 453.30,407.50 462.50,410.00 460.40,418.00" fill="#a9b1b9" />
<polygon points="476.70,405.80 482.00,409.60 473.30,410.40" fill="#8a8c8e" />
<path d="M436.51,368.32 A15.40,10.20 -68.30 1 0 425.12,396.94 A15.40,10.20 -68.30 1 0 436.51,368.32 Z" fill="url(#lg14)" />
<polygon points="436.51,368.32 477.39,384.59 466.01,413.21 425.12,396.94" fill="url(#lg14)" />
<ellipse cx="471.70" cy="398.90" rx="15.40" ry="10.20" transform="rotate(-68.30 471.70 398.90)" fill="#a8acb0"/>
<path d="M466.13,412.65 A14.80,9.60 111.70 1 0 477.07,385.15 A14.80,9.60 111.70 1 0 466.13,412.65 Z" fill="none" stroke="#e6e8ea" stroke-width="1.2"/>
<path d="M467.55,411.65 A13.40,8.90 111.70 1 0 477.45,386.75 A13.40,8.90 111.70 1 0 467.55,411.65 Z" fill="#b9bfc5" />
<polygon points="644.50,277.00 651.00,270.00 663.00,275.00 656.50,283.00" fill="#a8b0b8" />
<polygon points="644.50,277.00 656.50,283.00 657.00,284.50 645.00,278.50" fill="#8a8e92" />
<polygon points="675.00,288.00 682.00,279.00 700.00,283.00 687.00,295.00" fill="#a0a4a8" />
<polygon points="700.00,283.00 704.00,281.00 708.00,288.00 687.00,295.00" fill="#7c8084" />
<path d="M652,251.5 L698,263 L691.3,288.6 L652.4,276.6 Q643.6,273 643.7,264 Q644.5,253 652,251.5 Z" fill="url(#lg15)"/>
<path d="M694.59,289.89 A13.90,11.60 100.00 1 0 699.41,262.51 A13.90,11.60 100.00 1 0 694.59,289.89 Z" fill="url(#lg16)" />
<path d="M667.2,245 L667.2,256.5 A8,3.4 0 0 0 683.3,258 L683.3,245 Z" fill="url(#gDome)"/>
<ellipse cx="675.2" cy="245" rx="8.05" ry="3.4" fill="#f3d47a"/>
<polygon points="56.40,316.00 77.20,324.00 118.00,314.60 113.40,306.60 70.00,306.00" fill="#f5dc92" />
<polygon points="56.40,316.00 70.00,306.00 79.00,311.00 77.20,324.00" fill="#d8ae4c" />
<path d="M113,284 L119,280 Q123.5,281 123.5,288 L118,292 Z" fill="url(#gShaft)"/>
<path d="M56,304 C56,296 59,290.5 65.5,288 L99,274.5 Q114,269 118.5,282 Q122,298 110,305.5 L83.9,318.6 L70,318 Z" fill="url(#lg17)"/>
<ellipse cx="69.6" cy="304.3" rx="14.4" ry="14.4" fill="#eebf4c" stroke="#c99a30" stroke-width="0.7" stroke-opacity="0.7"/>
<path d="M56.5,305.5 L71.5,299.5 Q74.5,304 73,309 L60,314 Z" fill="url(#gShaft)"/>
<ellipse cx="58.2" cy="309.7" rx="2.8" ry="4.4" transform="rotate(-22 58.2 309.7)" fill="#c4c4c4"/>
<polygon points="133.50,270.10 169.20,283.20 169.20,286.40 133.50,273.30" fill="#dcae40" />
<polygon points="169.20,283.20 201.80,271.60 201.80,274.80 169.20,286.40" fill="#e7ba4c" />
<polygon points="133.50,270.10 169.20,283.20 201.80,271.60 166.10,258.50" fill="#f3d274" />
<path d="M168.50,277.30 L138.50,268.20 C138.50,258.20 146.50,247.50 156.50,247.50 L185.00,258.20 C193.00,258.20 196.30,262.60 196.30,269.60 Z" fill="url(#lg18)"/>
<path d="M167.30,277.30 C167.30,265.30 175.00,257.60 185.00,257.60" fill="none" stroke="#b8882a" stroke-width="2.2" stroke-opacity="0.55"/>
<path d="M168.50,277.30 C168.50,265.30 176.00,258.20 185.00,258.20 C193.00,258.20 196.30,262.60 196.30,269.60 Z" fill="url(#lg19)"/>
<path d="M145.50,270.40 C145.50,260.40 152.00,252.60 162.00,252.60" fill="none" stroke="#c49430" stroke-width="1"/>
<path d="M146.70,270.80 C146.70,260.80 153.20,253.00 163.20,253.00" fill="none" stroke="#f8dc8a" stroke-width="0.8"/>
<path d="M176.80,276.00 A4.2,4 -15 0 1 185.20,273.60 Z" fill="#111"/>
<polygon points="245.50,315.60 281.20,328.70 281.20,331.90 245.50,318.80" fill="#dcae40" />
<polygon points="281.20,328.70 313.80,317.10 313.80,320.30 281.20,331.90" fill="#e7ba4c" />
<polygon points="245.50,315.60 281.20,328.70 313.80,317.10 278.10,304.00" fill="#f3d274" />
<path d="M280.50,322.80 L250.50,313.70 C250.50,303.70 258.50,293.00 268.50,293.00 L297.00,303.70 C305.00,303.70 308.30,308.10 308.30,315.10 Z" fill="url(#lg20)"/>
<path d="M279.30,322.80 C279.30,310.80 287.00,303.10 297.00,303.10" fill="none" stroke="#b8882a" stroke-width="2.2" stroke-opacity="0.55"/>
<path d="M280.50,322.80 C280.50,310.80 288.00,303.70 297.00,303.70 C305.00,303.70 308.30,308.10 308.30,315.10 Z" fill="url(#lg21)"/>
<path d="M257.50,315.90 C257.50,305.90 264.00,298.10 274.00,298.10" fill="none" stroke="#c49430" stroke-width="1"/>
<path d="M258.70,316.30 C258.70,306.30 265.20,298.50 275.20,298.50" fill="none" stroke="#f8dc8a" stroke-width="0.8"/>
<path d="M288.80,321.50 A4.2,4 -15 0 1 297.20,319.10 Z" fill="#111"/>
<path d="M328.80,113.70 L319.29,113.62 Q323.93,111.66 322.07,106.98 Z" fill="#111"/>
<path d="M505.30,125.10 L495.80,125.36 Q500.36,123.24 498.34,118.63 Z" fill="#111"/>
<path d="M413.30,131.70 L422.81,131.55 Q418.22,133.62 420.19,138.25 Z" fill="#111"/>
<path d="M512.00,150.30 L505.26,157.01 Q507.13,152.33 502.49,150.36 Z" fill="#111"/>
<path d="M406.30,203.80 L415.80,203.52 Q411.24,205.65 413.28,210.26 Z" fill="#111"/>
<path d="M477.50,287.50 L467.99,287.54 Q472.60,285.52 470.69,280.87 Z" fill="#111"/>
<path d="M606.30,167.50 L596.79,167.51 Q601.41,165.51 599.51,160.84 Z" fill="#111"/>
<polyline points="545.00,142.50 601.41,165.51" fill="none" stroke="#222" stroke-width="1.25" stroke-dasharray="1.6 1.7"/>
<path d="M728.80,218.80 L719.29,218.65 Q723.94,216.73 722.12,212.03 Z" fill="#111"/>
<polyline points="652.00,186.00 723.94,216.73" fill="none" stroke="#222" stroke-width="1.25" stroke-dasharray="1.6 1.7"/>
<path d="M693.80,255.00 L700.66,248.42 Q698.71,253.06 703.31,255.12 Z" fill="#111"/>
<path d="M751.30,298.80 L741.79,298.73 Q746.43,296.76 744.57,292.08 Z" fill="#111"/>
<polyline points="697.50,276.30 746.43,296.76" fill="none" stroke="#222" stroke-width="1.25" stroke-dasharray="1.6 1.7"/>
<path d="M727.50,335.00 L734.34,328.39 Q732.40,333.04 737.01,335.08 Z" fill="#111"/>
<polyline points="771.30,317.50 732.40,333.04" fill="none" stroke="#222" stroke-width="1.25" stroke-dasharray="1.6 1.7"/>
<path d="M566.00,342.20 L573.20,335.99 Q571.01,340.52 575.49,342.82 Z" fill="#111"/>
<path d="M473.80,381.00 L480.51,374.26 Q478.67,378.95 483.31,380.90 Z" fill="#111"/>
<path d="M376.30,357.50 L385.79,358.01 Q381.07,359.76 382.71,364.52 Z" fill="#111"/>
<path d="M294.70,322.40 L304.19,321.78 Q299.71,324.08 301.90,328.61 Z" fill="#111"/>
<polyline points="319.80,330.80 299.71,324.08" fill="none" stroke="#222" stroke-width="1.25" stroke-dasharray="1.6 1.7"/>
<path d="M236.30,301.30 L245.80,301.73 Q241.09,303.52 242.77,308.26 Z" fill="#111"/>
<path d="M187.50,280.00 L197.00,279.68 Q192.45,281.83 194.51,286.43 Z" fill="#111"/>
<polyline points="211.30,288.80 192.45,281.83" fill="none" stroke="#222" stroke-width="1.25" stroke-dasharray="1.6 1.7"/>
<path d="M315.00,226.30 L307.95,232.68 Q310.04,228.10 305.50,225.91 Z" fill="#111"/>
<path d="M120.00,300.00 L126.88,293.44 Q124.92,298.08 129.51,300.14 Z" fill="#111"/>
<circle cx="280.00" cy="105.50" r="9.70" fill="#F0A134"/>
<text transform="translate(275.50 109.10) scale(0.671 1)" x="0.00" y="0" class="b">Ca</text>
<circle cx="262.50" cy="119.25" r="9.70" fill="#F0A134"/>
<text transform="translate(254.75 122.85) scale(0.681 1)" x="0.00" y="0" class="b">ORP</text>
<circle cx="297.00" cy="116.25" r="9.70" fill="#F0A134"/>
<text transform="translate(291.75 119.85) scale(0.730 1)" x="0.00" y="0" class="b">Cl<tspan font-size="7.0" dy="0.9">2</tspan></text>
<circle cx="280.75" cy="130.00" r="9.70" fill="#F0A134"/>
<text transform="translate(272.80 133.60) scale(0.682 1)" x="0.00" y="0" class="b">Turb</text>
<circle cx="315.00" cy="126.25" r="9.70" fill="#F0A134"/>
<text transform="translate(306.35 129.85) scale(0.645 1)" x="0.00" y="0" class="b">Cond</text>
<circle cx="298.75" cy="140.00" r="9.70" fill="#F0A134"/>
<text transform="translate(291.25 143.60) scale(0.677 1)" x="0.00" y="0" class="b">TOC</text>
<circle cx="444.80" cy="62.70" r="9.70" fill="#F0A134"/>
<text transform="translate(439.60 66.30) scale(0.660 1)" x="0.00" y="0" class="b">DO</text>
<circle cx="466.20" cy="62.70" r="9.70" fill="#F0A134"/>
<text transform="translate(458.25 66.30) scale(0.682 1)" x="0.00" y="0" class="b">Turb</text>
<circle cx="486.40" cy="62.70" r="9.70" fill="#F0A134"/>
<text transform="translate(477.75 66.30) scale(0.645 1)" x="0.00" y="0" class="b">Cond</text>
<circle cx="507.70" cy="62.70" r="9.70" fill="#F0A134"/>
<text transform="translate(502.15 66.30) scale(0.793 1)" x="0.00" y="0" class="b">pH</text>
<circle cx="444.80" cy="82.80" r="9.70" fill="#F0A134"/>
<text transform="translate(440.30 86.40) scale(0.671 1)" x="0.00" y="0" class="b">Ca</text>
<circle cx="466.30" cy="82.80" r="9.70" fill="#1A7CC0"/>
<text transform="translate(458.65 86.40) scale(0.696 1)" x="0.00" y="0" class="b">SiO<tspan font-size="7.0" dy="0.9">2</tspan></text>
<circle cx="486.40" cy="82.80" r="9.70" fill="#F0A134"/>
<text transform="translate(481.55 86.40) scale(0.723 1)" x="0.00" y="0" class="b">Na</text>
<circle cx="507.70" cy="82.80" r="9.70" fill="#F0A134"/>
<text transform="translate(498.60 86.40) scale(0.741 1)" x="0.00" y="0" class="b">N<tspan font-size="7.0" dy="0.9">2</tspan><tspan dy="-0.9">H</tspan><tspan font-size="7.0" dy="0.9">4</tspan></text>
<circle cx="477.30" cy="100.60" r="9.70" fill="#F0A134"/>
<text transform="translate(473.85 104.20) scale(0.657 1)" x="0.00" y="0" class="b">Cl</text>
<circle cx="574.50" cy="154.50" r="9.70" fill="#F0A134"/>
<text transform="translate(567.00 158.10) scale(0.677 1)" x="0.00" y="0" class="b">TOC</text>
<circle cx="411.00" cy="188.60" r="9.70" fill="#F0A134"/>
<text transform="translate(402.35 192.20) scale(0.645 1)" x="0.00" y="0" class="b">Cond</text>
<circle cx="430.00" cy="180.70" r="9.70" fill="#F0A134"/>
<text transform="translate(425.15 184.30) scale(0.723 1)" x="0.00" y="0" class="b">Na</text>
<circle cx="449.60" cy="173.60" r="9.70" fill="#F0A134"/>
<text transform="translate(444.05 177.20) scale(0.793 1)" x="0.00" y="0" class="b">pH</text>
<circle cx="468.70" cy="165.70" r="9.70" fill="#F0A134"/>
<text transform="translate(463.95 169.30) scale(0.679 1)" x="0.00" y="0" class="b">Cu</text>
<circle cx="419.50" cy="223.80" r="9.70" fill="#F0A134"/>
<text transform="translate(411.75 227.40) scale(0.718 1)" x="0.00" y="0" class="b">Micr</text>
<circle cx="401.80" cy="236.80" r="9.70" fill="#F0A134"/>
<text transform="translate(397.30 240.40) scale(0.671 1)" x="0.00" y="0" class="b">Ca</text>
<circle cx="437.40" cy="232.20" r="9.70" fill="#F0A134"/>
<text transform="translate(432.65 235.80) scale(0.679 1)" x="0.00" y="0" class="b">Cu</text>
<circle cx="456.90" cy="240.00" r="9.70" fill="#F0A134"/>
<text transform="translate(453.45 243.60) scale(0.657 1)" x="0.00" y="0" class="b">Cl</text>
<circle cx="420.40" cy="245.00" r="9.70" fill="#F0A134"/>
<text transform="translate(415.15 248.60) scale(0.730 1)" x="0.00" y="0" class="b">Cl<tspan font-size="7.0" dy="0.9">2</tspan></text>
<circle cx="440.50" cy="252.50" r="9.70" fill="#F0A134"/>
<text transform="translate(432.75 256.10) scale(0.681 1)" x="0.00" y="0" class="b">ORP</text>
<circle cx="460.00" cy="260.00" r="9.70" fill="#F0A134"/>
<text transform="translate(454.75 263.60) scale(0.693 1)" x="0.00" y="0" class="b">Mo</text>
<circle cx="671.75" cy="195.00" r="9.70" fill="#F0A134"/>
<text transform="translate(666.90 198.60) scale(0.723 1)" x="0.00" y="0" class="b">Na</text>
<circle cx="690.60" cy="202.50" r="9.70" fill="#F0A134"/>
<text transform="translate(685.40 206.10) scale(0.660 1)" x="0.00" y="0" class="b">DO</text>
<circle cx="710.00" cy="209.50" r="9.70" fill="#F0A134"/>
<text transform="translate(701.35 213.10) scale(0.645 1)" x="0.00" y="0" class="b">Cond</text>
<circle cx="710.00" cy="237.00" r="9.70" fill="#F0A134"/>
<text transform="translate(704.80 240.60) scale(0.660 1)" x="0.00" y="0" class="b">DO</text>
<circle cx="728.00" cy="247.50" r="9.70" fill="#F0A134"/>
<text transform="translate(720.25 251.10) scale(0.681 1)" x="0.00" y="0" class="b">ORP</text>
<circle cx="721.75" cy="287.30" r="9.70" fill="#F0A134"/>
<text transform="translate(716.55 290.90) scale(0.660 1)" x="0.00" y="0" class="b">DO</text>
<circle cx="615.50" cy="297.00" r="9.70" fill="#F0A134"/>
<text transform="translate(608.75 300.60) scale(0.708 1)" x="0.00" y="0" class="b">PO<tspan font-size="7.0" dy="0.9">4</tspan></text>
<circle cx="597.50" cy="307.00" r="9.70" fill="#F0A134"/>
<text transform="translate(588.85 310.60) scale(0.645 1)" x="0.00" y="0" class="b">Cond</text>
<circle cx="633.30" cy="307.00" r="9.70" fill="#F0A134"/>
<text transform="translate(624.20 310.60) scale(0.741 1)" x="0.00" y="0" class="b">N<tspan font-size="7.0" dy="0.9">2</tspan><tspan dy="-0.9">H</tspan><tspan font-size="7.0" dy="0.9">4</tspan></text>
<circle cx="615.50" cy="317.50" r="9.70" fill="#F0A134"/>
<text transform="translate(609.95 321.10) scale(0.793 1)" x="0.00" y="0" class="b">pH</text>
<circle cx="597.50" cy="328.00" r="9.70" fill="#F0A134"/>
<text transform="translate(592.30 331.60) scale(0.660 1)" x="0.00" y="0" class="b">DO</text>
<circle cx="633.30" cy="328.00" r="9.70" fill="#1A7CC0"/>
<text transform="translate(625.65 331.60) scale(0.696 1)" x="0.00" y="0" class="b">SiO<tspan font-size="7.0" dy="0.9">2</tspan></text>
<circle cx="615.50" cy="338.80" r="9.70" fill="#F0A134"/>
<text transform="translate(608.50 342.40) scale(0.735 1)" x="0.00" y="0" class="b">NH<tspan font-size="7.0" dy="0.9">3</tspan></text>
<circle cx="597.50" cy="348.80" r="9.70" fill="#F0A134"/>
<text transform="translate(594.05 352.40) scale(0.657 1)" x="0.00" y="0" class="b">Cl</text>
<circle cx="634.50" cy="348.80" r="9.70" fill="#F0A134"/>
<text transform="translate(630.25 352.40) scale(0.694 1)" x="0.00" y="0" class="b">Fe</text>
<circle cx="615.50" cy="359.50" r="9.70" fill="#F0A134"/>
<text transform="translate(610.75 363.10) scale(0.679 1)" x="0.00" y="0" class="b">Cu</text>
<circle cx="386.00" cy="375.00" r="9.70" fill="#F0A134"/>
<text transform="translate(377.35 378.60) scale(0.645 1)" x="0.00" y="0" class="b">Cond</text>
<circle cx="405.00" cy="367.50" r="9.70" fill="#F0A134"/>
<text transform="translate(400.15 371.10) scale(0.723 1)" x="0.00" y="0" class="b">Na</text>
<circle cx="424.50" cy="359.50" r="9.70" fill="#1A7CC0"/>
<text transform="translate(416.85 363.10) scale(0.696 1)" x="0.00" y="0" class="b">SiO<tspan font-size="7.0" dy="0.9">2</tspan></text>
<circle cx="307.50" cy="341.80" r="9.70" fill="#1A7CC0"/>
<text transform="translate(299.85 345.40) scale(0.696 1)" x="0.00" y="0" class="b">SiO<tspan font-size="7.0" dy="0.9">2</tspan></text>
<circle cx="195.00" cy="297.50" r="9.70" fill="#1A7CC0"/>
<text transform="translate(187.35 301.10) scale(0.696 1)" x="0.00" y="0" class="b">SiO<tspan font-size="7.0" dy="0.9">2</tspan></text>
<circle cx="255.00" cy="248.00" r="9.70" fill="#F0A134"/>
<text transform="translate(247.50 251.60) scale(0.677 1)" x="0.00" y="0" class="b">TOC</text>
<circle cx="273.75" cy="240.00" r="9.70" fill="#F0A134"/>
<text transform="translate(268.90 243.60) scale(0.723 1)" x="0.00" y="0" class="b">Na</text>
<circle cx="293.00" cy="232.00" r="9.70" fill="#F0A134"/>
<text transform="translate(284.35 235.60) scale(0.645 1)" x="0.00" y="0" class="b">Cond</text>
<circle cx="73.00" cy="272.50" r="9.70" fill="#F0A134"/>
<text transform="translate(67.80 276.10) scale(0.660 1)" x="0.00" y="0" class="b">DO</text>
<text x="370.65" y="38.30" textLength="52.45" lengthAdjust="spacingAndGlyphs" class="l" font-size="10.00">HỆ THỐNG</text>
<text x="363.65" y="51.80" textLength="66.95" lengthAdjust="spacingAndGlyphs" class="l" font-size="10.00">KHỬ KHOÁNG</text>
<text x="216.90" y="88.20" textLength="91.70" lengthAdjust="spacingAndGlyphs" class="l" font-size="10.00">NGUỒN NƯỚC CẤP</text>
<text x="589.40" y="110.00" textLength="77.30" lengthAdjust="spacingAndGlyphs" class="l" font-size="10.00">NƯỚC BỔ SUNG</text>
<text x="658.90" y="148.30" textLength="77.90" lengthAdjust="spacingAndGlyphs" class="l" font-size="10.00">BƠM NGƯNG TỤ</text>
<text x="264.40" y="165.00" textLength="52.00" lengthAdjust="spacingAndGlyphs" class="l" font-size="10.00">HỆ THỐNG</text>
<text x="264.40" y="177.50" textLength="52.50" lengthAdjust="spacingAndGlyphs" class="l" font-size="10.00">NGƯNG TỤ</text>
<text x="807.70" y="200.50" textLength="66.70" lengthAdjust="spacingAndGlyphs" class="l" font-size="10.00">BỘ GIA NHIỆT</text>
<text x="804.90" y="213.80" textLength="72.00" lengthAdjust="spacingAndGlyphs" class="l" font-size="10.00">ÁP SUẤT THẤP</text>
<text x="116.20" y="227.00" textLength="81.90" lengthAdjust="spacingAndGlyphs" class="l" font-size="10.00">TUABIN ÁP SUẤT</text>
<text x="120.20" y="240.00" textLength="73.70" lengthAdjust="spacingAndGlyphs" class="l" font-size="10.00">TRUNG &amp; THẤP</text>
<text x="501.40" y="246.30" textLength="80.50" lengthAdjust="spacingAndGlyphs" class="l" font-size="10.00">THÁP GIẢI NHIỆT</text>
<text x="624.00" y="238.80" textLength="39.90" lengthAdjust="spacingAndGlyphs" class="l" font-size="10.00">THIẾT BỊ</text>
<text x="623.50" y="252.70" textLength="39.90" lengthAdjust="spacingAndGlyphs" class="l" font-size="10.00">KHỬ KHÍ</text>
<text x="240.20" y="278.80" textLength="83.40" lengthAdjust="spacingAndGlyphs" class="l" font-size="10.00">BỘ GIA NHIỆT LẠI</text>
<text x="795.20" y="330.80" textLength="77.20" lengthAdjust="spacingAndGlyphs" class="l" font-size="10.00">BƠM NƯỚC CẤP</text>
<text x="33.20" y="340.00" textLength="76.20" lengthAdjust="spacingAndGlyphs" class="l" font-size="10.00">MÁY PHÁT ĐIỆN</text>
<text x="228.40" y="343.80" textLength="54.20" lengthAdjust="spacingAndGlyphs" class="l" font-size="10.00">TUABIN ÁP</text>
<text x="230.40" y="356.00" textLength="49.20" lengthAdjust="spacingAndGlyphs" class="l" font-size="10.00">SUẤT CAO</text>
<text x="305.40" y="378.80" textLength="71.20" lengthAdjust="spacingAndGlyphs" class="l" font-size="10.00">BỘ QUẢ NHIỆT</text>
<text x="711.90" y="385.00" textLength="66.20" lengthAdjust="spacingAndGlyphs" class="l" font-size="10.00">BỘ GIA NHIỆT</text>
<text x="711.90" y="398.00" textLength="66.20" lengthAdjust="spacingAndGlyphs" class="l" font-size="10.00">ÁP SUẤT CAO</text>
<text x="551.00" y="396.60" textLength="40.90" lengthAdjust="spacingAndGlyphs" class="l" font-size="10.00">BỘ HÂM</text>
<text x="556.40" y="409.60" textLength="29.30" lengthAdjust="spacingAndGlyphs" class="l" font-size="10.00">NƯỚC</text>
<text x="435.40" y="429.80" textLength="33.20" lengthAdjust="spacingAndGlyphs" class="l" font-size="10.00">LÒ HƠI</text>
</svg></body></html>
